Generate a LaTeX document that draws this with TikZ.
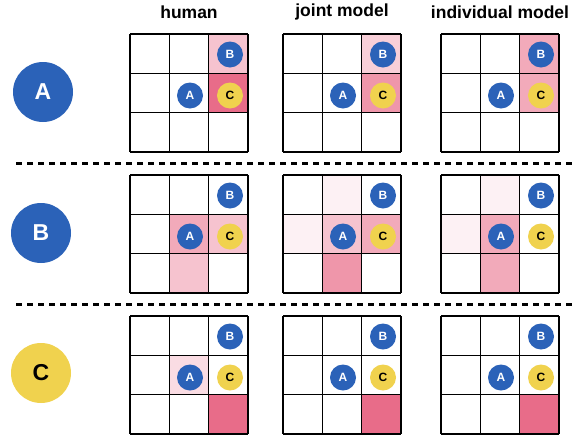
\documentclass[tikz,border=0pt]{standalone}
\usepackage{fontspec}
\setmainfont{Liberation Sans}
\definecolor{cblue}{HTML}{2B62B8}
\definecolor{cyel}{HTML}{F0D24E}
\definecolor{pdark}{HTML}{E86C89}
\definecolor{pmed}{HTML}{EF96AA}
\definecolor{pmid}{HTML}{F2AABA}
\definecolor{plight}{HTML}{F6C3CF}
\definecolor{pfaint}{HTML}{FADCE3}
\definecolor{pvfaint}{HTML}{FDF1F4}
\newcommand\cellsz{39.333}
\newcommand\gridlines[2]{%
  \foreach \i in {0,1,2,3} {
    \draw[gridline] ({#1+\i*\cellsz},#2) -- ({#1+\i*\cellsz},{#2+118});
    \draw[gridline] (#1,{#2+\i*\cellsz}) -- ({#1+118},{#2+\i*\cellsz});
  }}
\newcommand\pc[5]{\fill[#5] ({#1+(#4-1)*\cellsz},{#2+(#3-1)*\cellsz}) rectangle ++(\cellsz,\cellsz);}
\newcommand\tokens[3]{%
  \node[smc,fill=cblue,text=white] (#1B) at ({#2+100},{#3+20.5}) {B};
  \node[smc,fill=cblue,text=white] (#1A) at ({#2+60},{#3+61.5}) {A};
  \node[smc,fill=cyel,text=black] (#1C) at ({#2+100},{#3+61.5}) {C};}
\begin{document}
\begin{tikzpicture}[x=1pt,y=-1pt,
  gridline/.style={line width=1.4pt,black,line cap=square},
  smc/.style={circle,minimum size=26pt,inner sep=0pt,font=\bfseries\fontsize{12}{12}\selectfont},
  bigc/.style={circle,minimum size=60pt,inner sep=0pt,font=\bfseries\fontsize{23}{23}\selectfont},
  title/.style={font=\bfseries\fontsize{17.5}{20}\selectfont,inner sep=0pt},
  sep/.style={line width=3.2pt,dash pattern=on 5.7pt off 5.3pt}]
\useasboundingbox (0,0) rectangle (576,437);
% titles
\node[title] (t1) at (189,12) {human};
\node[title] (t2) at (342,12) {joint model};
\node[title] (t3) at (500,12) {individual model};
% big circles
\node[bigc,fill=cblue,text=white] (bA) at (43,92) {A};
\node[bigc,fill=cblue,text=white] (bB) at (41,233) {B};
\node[bigc,fill=cyel,text=black] (bC) at (41,373) {C};
% separators
\coordinate (s1a) at (16,163.3); \coordinate (s1b) at (576,163.3);
\coordinate (s2a) at (16,304.3); \coordinate (s2b) at (576,304.3);
\draw[sep] (s1a) -- (s1b);
\draw[sep] (s2a) -- (s2b);
% row A fills
\pc{130}{34}{1}{3}{plight} \pc{130}{34}{2}{3}{pdark}
\pc{283}{34}{1}{3}{plight!80!white} \pc{283}{34}{2}{3}{pmed}
\pc{441}{34}{1}{3}{pmid} \pc{441}{34}{2}{3}{pmid}
% row B fills
\pc{130}{175}{2}{2}{pmid} \pc{130}{175}{2}{3}{plight} \pc{130}{175}{3}{2}{plight}
\pc{283}{175}{1}{2}{pvfaint} \pc{283}{175}{2}{1}{pvfaint} \pc{283}{175}{2}{2}{plight} \pc{283}{175}{2}{3}{pmid} \pc{283}{175}{3}{2}{pmed}
\pc{441}{175}{1}{2}{pvfaint} \pc{441}{175}{2}{1}{pvfaint} \pc{441}{175}{2}{2}{pmid} \pc{441}{175}{3}{2}{pmid}
% row C fills
\pc{130}{316}{2}{2}{pfaint} \pc{130}{316}{3}{3}{pdark}
\pc{283}{316}{3}{3}{pdark}
\pc{441}{316}{3}{3}{pdark}
% grids
\gridlines{130}{34} \gridlines{283}{34} \gridlines{441}{34}
\gridlines{130}{175} \gridlines{283}{175} \gridlines{441}{175}
\gridlines{130}{316} \gridlines{283}{316} \gridlines{441}{316}
% tokens
\tokens{ha}{130}{34} \tokens{ja}{283}{34} \tokens{ia}{441}{34}
\tokens{hb}{130}{175} \tokens{jb}{283}{175} \tokens{ib}{441}{175}
\tokens{hc}{130}{316} \tokens{jc}{283}{316} \tokens{ic}{441}{316}
\end{tikzpicture}
\end{document}
